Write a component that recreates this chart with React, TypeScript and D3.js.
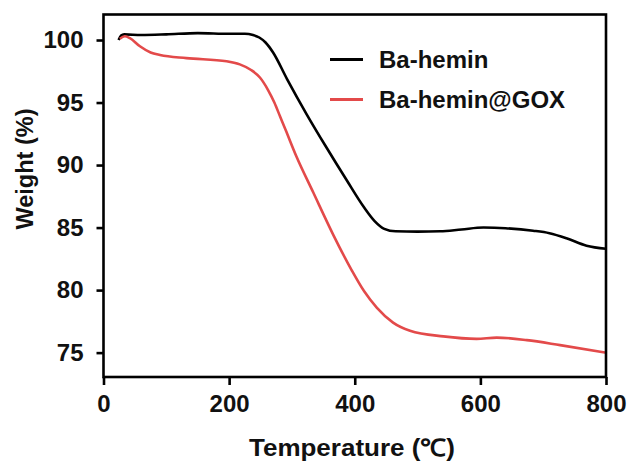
import React, { useEffect, useRef } from "react";
import * as d3 from "d3";

// TGA curves: temperature (°C) vs. residual weight (%)
const baHeminTemp = [24, 28, 33, 60, 100, 150, 200, 225, 238, 248, 258, 270, 292, 323, 355, 387, 415, 432, 447, 465, 500, 536, 570, 605, 640, 684, 710, 737, 769, 800];
const baHeminWeight = [100.0, 100.35, 100.45, 100.4, 100.45, 100.55, 100.5, 100.5, 100.4, 100.2, 99.8, 99.0, 96.9, 94.1, 91.4, 88.8, 86.6, 85.5, 84.9, 84.7, 84.68, 84.7, 84.85, 85.0, 84.95, 84.75, 84.55, 84.15, 83.55, 83.3];

const goxTemp = [26, 34, 42, 58, 75, 90, 132, 196, 217, 235, 249, 262, 272, 281, 290, 307, 334, 366, 395, 415, 435, 461, 488, 541, 594, 626, 674, 727, 800];
const goxWeight = [100.1, 100.3, 100.15, 99.5, 99.0, 98.8, 98.55, 98.3, 98.05, 97.6, 97.0, 96.0, 95.0, 93.9, 92.8, 90.7, 87.8, 84.4, 81.6, 79.9, 78.6, 77.4, 76.75, 76.3, 76.1, 76.2, 76.0, 75.6, 75.0];

const xTicks = [0, 200, 400, 600, 800];
const yTicks = [75, 80, 85, 90, 95, 100];

const seriesNames = ["Ba-hemin", "Ba-hemin@GOX"];
const seriesColors = ["#000000", "#e34a4a"];

const W = 630;
const H = 465;
const margin = { left: 103.5, right: 24, top: 14.5, bottom: 88 };

export default function App() {
  const ref = useRef<SVGSVGElement>(null);

  useEffect(() => {
    const svg = d3.select(ref.current);
    svg.selectAll("*").remove();

    const x = d3.scaleLinear().domain([0, 800]).range([margin.left, W - margin.right]);
    const y = d3.scaleLinear().domain([73.05, 102.04]).range([H - margin.bottom, margin.top]);
    const font = "'Liberation Sans', Arial, sans-serif";

    const series = [
      baHeminTemp.map((t, i) => [t, baHeminWeight[i]] as [number, number]),
      goxTemp.map((t, i) => [t, goxWeight[i]] as [number, number]),
    ];

    const line = d3
      .line<[number, number]>()
      .x((d) => x(d[0]))
      .y((d) => y(d[1]))
      .curve(d3.curveMonotoneX);

    series.forEach((s, i) => {
      svg
        .append("path")
        .attr("d", line(s))
        .attr("fill", "none")
        .attr("stroke", seriesColors[i])
        .attr("stroke-width", 2.6)
        .attr("stroke-linejoin", "round");
    });

    // frame
    svg
      .append("rect")
      .attr("x", x(0))
      .attr("y", margin.top)
      .attr("width", x(800) - x(0))
      .attr("height", H - margin.bottom - margin.top)
      .attr("fill", "none")
      .attr("stroke", "#000")
      .attr("stroke-width", 2.6);

    // x axis
    const xAxis = svg
      .append("g")
      .attr("transform", `translate(0,${H - margin.bottom})`)
      .call(d3.axisBottom(x).tickValues(xTicks).tickSize(8).tickPadding(10).tickFormat(d3.format("d")));
    xAxis.select(".domain").remove();
    xAxis.selectAll("line").attr("stroke", "#000").attr("stroke-width", 2.6);
    xAxis
      .selectAll("text")
      .attr("fill", "#111")
      .attr("font-family", font)
      .attr("font-weight", "bold")
      .attr("font-size", 24);

    // y axis
    const yAxis = svg
      .append("g")
      .attr("transform", `translate(${x(0)},0)`)
      .call(d3.axisLeft(y).tickValues(yTicks).tickSize(7).tickPadding(13).tickFormat(d3.format("d")));
    yAxis.select(".domain").remove();
    yAxis.selectAll("line").attr("stroke", "#000").attr("stroke-width", 2.6);
    yAxis
      .selectAll("text")
      .attr("fill", "#111")
      .attr("font-family", font)
      .attr("font-weight", "bold")
      .attr("font-size", 24);

    // axis titles
    svg
      .append("text")
      .attr("x", 352)
      .attr("y", 456)
      .attr("text-anchor", "middle")
      .attr("font-family", font)
      .attr("font-weight", "bold")
      .attr("font-size", 24)
      .attr("textLength", 206)
      .attr("lengthAdjust", "spacingAndGlyphs")
      .attr("fill", "#111")
      .text("Temperature (℃)");

    svg
      .append("text")
      .attr("transform", `translate(33,169) rotate(-90)`)
      .attr("text-anchor", "middle")
      .attr("font-family", font)
      .attr("font-weight", "bold")
      .attr("font-size", 23.5)
      .attr("fill", "#111")
      .text("Weight (%)");

    // legend
    seriesNames.forEach((name, i) => {
      const ly = 59.5 + i * 40;
      svg
        .append("line")
        .attr("x1", 330)
        .attr("x2", 363)
        .attr("y1", ly)
        .attr("y2", ly)
        .attr("stroke", seriesColors[i])
        .attr("stroke-width", 2.8);
      svg
        .append("text")
        .attr("x", 379)
        .attr("y", ly + 8.5)
        .attr("font-family", font)
        .attr("font-weight", "bold")
        .attr("font-size", 24)
        .attr("fill", "#111")
        .text(name);
    });
  }, []);

  return (
    <svg
      ref={ref}
      width={W}
      height={H}
      style={{ position: "absolute", left: 0, top: 0, background: "#fff" }}
    />
  );
}
